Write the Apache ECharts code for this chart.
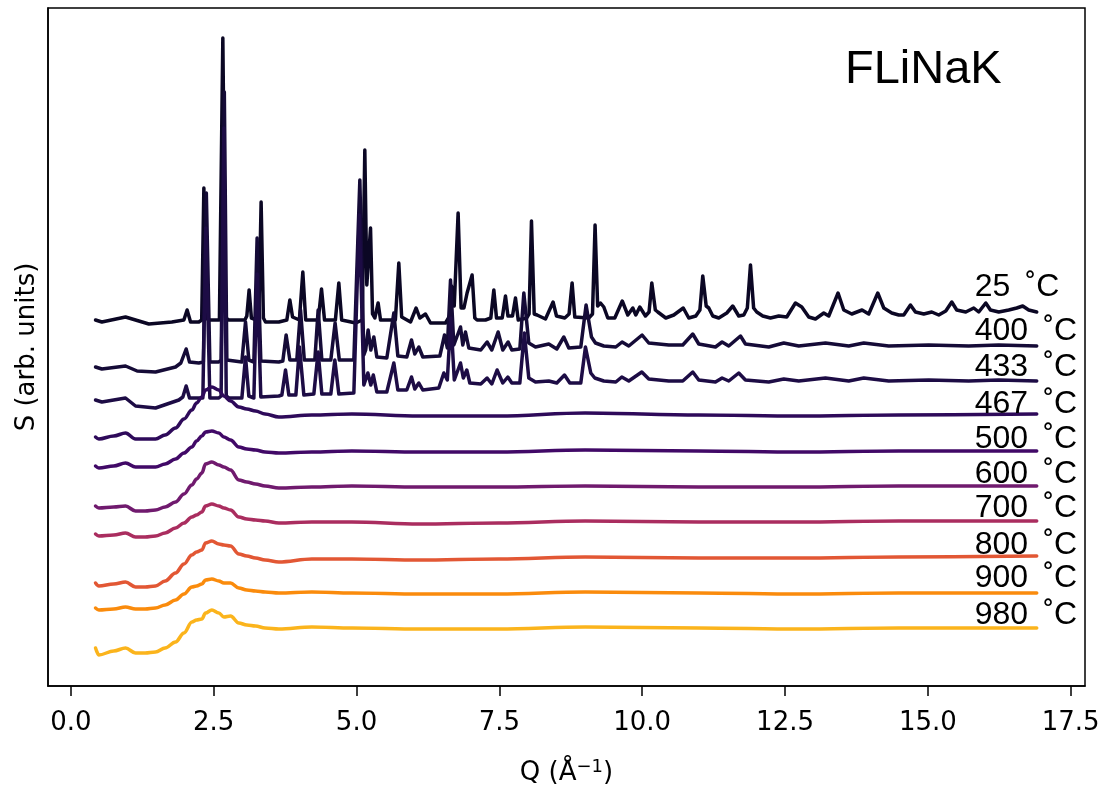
<!DOCTYPE html>
<html><head><meta charset="utf-8">
<script src="https://cdn.jsdelivr.net/npm/echarts@6/dist/echarts.min.js"></script>
<style>html,body{margin:0;padding:0;background:#fff}#c{width:1100px;height:792px}</style>
</head><body><div id="c"></div>
<script>
// ---- data (Q in 1/Å, S in arbitrary units; curves already vertically offset) ----
const temps = [25, 400, 433, 467, 500, 600, 700, 800, 900, 980];
const xTicks = [0, 2.5, 5, 7.5, 10, 12.5, 15, 17.5];

const s25 = [[0.432,366],[0.543,364],[0.957,369],[1.365,362],[1.768,364],[1.978,366],[2.035,376],[2.095,364],[2.24,364],[2.29,366],[2.328,498],[2.37,368],[2.415,366],[2.6,366],[2.66,648],[2.71,368],[2.765,366],[3.045,366],[3.08,370],[3.12,396],[3.16,368],[3.255,366],[3.29,370],[3.33,484],[3.37,368],[3.407,364],[3.64,364],[3.78,366],[3.833,386],[3.88,369],[4.0,366],[4.06,414],[4.11,366],[4.33,366],[4.387,397],[4.44,366],[4.63,366],[4.69,403],[4.74,366],[4.988,363],[5.1,366],[5.145,536],[5.18,401],[5.245,458],[5.28,372],[5.32,368],[5.378,383],[5.42,366],[5.68,366],[5.74,423],[5.79,369],[5.945,364],[6.043,378],[6.108,368],[6.207,372],[6.295,363],[6.557,363],[6.63,370],[6.662,400],[6.71,380],[6.778,473],[6.83,378],[6.88,378],[6.935,393],[7.023,411],[7.07,368],[7.11,366],[7.257,366],[7.35,368],[7.403,396],[7.45,368],[7.55,368],[7.607,390],[7.65,370],[7.73,370],[7.782,388],[7.83,366],[7.98,368],[8.02,372],[8.062,465],[8.11,372],[8.16,371],[8.307,367],[8.44,384],[8.5,370],[8.645,368],[8.72,372],[8.773,403],[8.82,369],[9.065,368],[9.13,372],[9.175,461],[9.22,380],[9.27,383],[9.328,379],[9.398,368],[9.52,368],[9.651,385],[9.748,371],[9.835,378],[9.888,371],[9.958,379],[10.057,370],[10.12,374],[10.168,403],[10.23,376],[10.273,374],[10.413,368],[10.553,371],[10.719,378],[10.815,368],[10.938,370],[11.01,376],[11.06,410],[11.12,380],[11.165,378],[11.235,370],[11.34,368],[11.48,373],[11.585,380],[11.69,370],[11.778,371],[11.84,378],[11.895,421],[11.95,378],[12.005,374],[12.11,370],[12.245,368],[12.39,370],[12.53,369],[12.682,383],[12.793,379],[12.915,369],[13.032,367],[13.178,373],[13.265,370],[13.428,393],[13.528,376],[13.668,372],[13.848,376],[13.965,372],[14.123,393],[14.228,378],[14.368,373],[14.49,371],[14.578,371],[14.695,381],[14.782,374],[14.928,372],[15.068,374],[15.19,371],[15.313,375],[15.418,384],[15.505,376],[15.663,374],[15.803,378],[15.89,374],[16.013,383],[16.095,376],[16.24,374],[16.415,376],[16.555,378],[16.66,380],[16.765,376],[16.905,374]];

const s400 = [[0.432,319],[0.543,317],[0.957,320],[1.16,315],[1.482,314],[1.832,319],[1.925,323],[2.018,337],[2.077,324],[2.24,323],[2.319,324],[2.371,493],[2.433,324],[2.59,324],[2.63,326],[2.686,594],[2.73,326],[2.765,324],[2.993,324],[3.057,364],[3.115,326],[3.203,324],[3.26,448],[3.325,325],[3.64,324],[3.71,325],[3.768,351],[3.833,326],[3.955,326],[4.02,376],[4.086,326],[4.27,326],[4.328,376],[4.393,326],[4.55,326],[4.625,363],[4.699,326],[4.953,326],[5.058,506],[5.128,331],[5.16,336],[5.203,356],[5.25,336],[5.303,349],[5.355,329],[5.53,328],[5.653,373],[5.723,330],[5.88,329],[5.962,346],[6.02,332],[6.09,339],[6.16,329],[6.458,330],[6.54,351],[6.589,338],[6.645,406],[6.703,341],[6.82,359],[6.86,341],[6.907,354],[6.965,338],[7.175,336],[7.285,344],[7.368,336],[7.478,354],[7.56,336],[7.653,344],[7.718,336],[7.858,337],[7.928,393],[8.015,343],[8.132,339],[8.365,342],[8.505,337],[8.628,349],[8.715,338],[8.925,339],[9.018,381],[9.112,349],[9.182,343],[9.328,340],[9.538,339],[9.648,344],[9.765,340],[9.998,351],[10.115,343],[10.465,341],[10.71,341],[10.885,352],[10.99,342],[11.282,339],[11.398,344],[11.515,340],[11.72,350],[11.807,342],[12.215,339],[12.478,343],[12.74,340],[13.207,343],[13.615,340],[13.878,343],[14.315,340],[15.015,341],[15.715,340],[16.24,341],[16.905,340]];

const s433 = [[0.432,286],[0.543,284],[0.957,288],[1.132,280],[1.482,278],[1.89,286],[1.96,289],[2.018,300],[2.077,288],[2.24,288],[2.31,288],[2.363,458],[2.433,288],[2.59,288],[2.63,290],[2.678,558],[2.72,290],[2.765,288],[2.993,288],[3.057,329],[3.115,290],[3.203,288],[3.26,412],[3.325,289],[3.64,290],[3.693,291],[3.757,316],[3.815,291],[3.938,291],[4.002,339],[4.078,291],[4.253,292],[4.328,334],[4.393,292],[4.55,292],[4.62,326],[4.69,292],[4.953,293],[5.049,471],[5.128,301],[5.198,313],[5.25,301],[5.294,311],[5.355,294],[5.53,294],[5.653,323],[5.723,296],[5.88,296],[5.962,309],[6.02,297],[6.09,303],[6.16,296],[6.44,298],[6.528,313],[6.589,306],[6.65,368],[6.711,306],[6.82,323],[6.869,308],[6.93,316],[6.983,303],[7.175,302],[7.285,308],[7.368,302],[7.46,316],[7.56,303],[7.648,309],[7.718,303],[7.858,303],[7.937,353],[8.015,308],[8.132,304],[8.365,305],[8.505,303],[8.64,311],[8.733,303],[8.925,303],[9.007,339],[9.1,313],[9.17,308],[9.328,305],[9.538,304],[9.643,309],[9.765,305],[9.993,314],[10.115,307],[10.465,305],[10.71,305],[10.885,314],[10.99,306],[11.282,304],[11.398,308],[11.515,305],[11.69,313],[11.807,306],[12.215,304],[12.478,307],[12.74,305],[13.207,308],[13.615,305],[13.878,308],[14.315,305],[15.015,306],[15.715,305],[16.24,306],[16.905,305]];

const qLiquid = [0.432,0.49,0.75,0.957,1.132,1.3,1.482,1.65,1.832,1.98,2.118,2.2,2.293,2.357,2.468,2.59,2.678,2.795,2.94,3.08,3.232,3.4,3.64,4.218,4.918,6.09,7.49,9.0,10.99,12.74,14.49,16.905];
const s467 = [249,247,250,253,247,247,247,251,258,267,276,283,289,296,299,296,290,285,279,277,275,272,269,271,272,270,270,273,271,270,271,272];
const s500 = [220,218,220,223,219,219,219,222,227,233,239,245,250,254,255,253,249,246,239,237,236,234,233,234,235,234,234,236,235,234,235,235];
const s600 = [180,178,179,180,175,175,176,179,184,192,201,207,213,222,224,221,219,216,206,204,202,200,198,199,200,199,199,200,199,199,200,200];
const s700 = [152,150,151,153,149,149,150,153,158,163,169,171,174,180,182,180,178,176,169,167,166,165,163,164,164,162,163,165,164,164,165,165];
const s800 = [103,100,102,104,99,99,100,105,113,122,131,134,136,143,145,142,141,140,132,130,128,126,124,127,127,126,127,129,128,128,129,130];
const s900 = [78,76,77,79,77,77,78,81,86,92,99,100,102,106,107,105,103,103,98,96,95,94,93,94,93,92,92,94,93,92,93,93];
const s980 = [38,31,35,38,33,33,34,38,44,53,64,66,67,73,76,73,69,70,63,61,60,58,57,59,58,57,57,59,58,57,58,58];

// ---- styling ----
const colors = ['#0b0724','#150b37','#1d0c45','#2e0a5a','#410967','#701a6e','#aa2d5f','#e25734','#fa8b0c','#fbb41c'];
const labelLift = [25, 15, 14, 10, 12, 12, 13, 11, 15, 13];
const labelQ = 15.82;

const liquid = [s467, s500, s600, s700, s800, s900, s980].map(a => a.map((v, i) => [qLiquid[i], v]));
const allData = [s25, s400, s433].concat(liquid);

const series = [];
allData.forEach((d, i) => {
  const isLiquid = i >= 3;
  series.push({
    type: 'line', data: d, showSymbol: false, symbol: 'none',
    smooth: isLiquid ? 0.35 : false, smoothMonotone: isLiquid ? 'x' : undefined,
    lineStyle: { color: colors[i], width: 3.5, join: 'round', cap: 'round', opacity: 1 },
    silent: true, animation: false, z: 2
  });
});
const labelData = allData.map((d, i) => ({
  value: [labelQ, d[d.length - 1][1] + labelLift[i]],
  label: { formatter: temps[i] + ' \u2009\u02DA' + 'C' }
}));
series.push({
  type: 'scatter', data: labelData, symbolSize: 0, silent: true, animation: false, z: 5,
  itemStyle: { opacity: 1 },
  label: { show: true, position: 'right', distance: 0, color: '#000', opacity: 1,
           fontFamily: 'Liberation Sans, Arial, sans-serif', fontSize: 32 }
});

const chart = echarts.init(document.getElementById('c'), null, { renderer: 'canvas' });
chart.setOption({
  backgroundColor: '#fff',
  animation: false,
  title: { text: 'FLiNaK', left: 840, top: 42,
           textStyle: { fontFamily: 'Liberation Sans, Arial, sans-serif', fontSize: 47, fontWeight: 'normal', color: '#000' } },
  grid: { left: 48, right: 15, top: 8, bottom: 106, show: true, borderColor: '#000', borderWidth: 1.5,
          backgroundColor: 'transparent', containLabel: false, outerBoundsMode: 'none' },
  xAxis: {
    type: 'value', min: -0.4, max: 17.75,
    name: 'Q (Å{sup|\u22121})', nameLocation: 'middle', nameGap: 72,
    nameTextStyle: { fontFamily: 'DejaVu Sans', fontSize: 26, color: '#000', lineHeight: 30,
                     rich: { sup: { fontFamily: 'DejaVu Sans', fontSize: 18, color: '#000', verticalAlign: 'top', lineHeight: 30 } } },
    axisLine: { show: true, onZero: false, lineStyle: { color: '#000', width: 1.5 } },
    axisTick: { show: true, inside: false, length: 10, customValues: xTicks, lineStyle: { color: '#000', width: 1.5 } },
    axisLabel: { show: true, customValues: xTicks, margin: 24, formatter: v => v.toFixed(1),
                 fontFamily: 'DejaVu Sans', fontSize: 26, color: '#000' },
    splitLine: { show: false }
  },
  yAxis: {
    type: 'value', min: 0, max: 678,
    name: 'S (arb. units)', nameLocation: 'middle', nameGap: 8, nameRotate: 90,
    nameTextStyle: { fontFamily: 'DejaVu Sans', fontSize: 26, color: '#000' },
    axisLine: { show: true, onZero: false, lineStyle: { color: '#000', width: 1.5 } },
    axisTick: { show: false }, axisLabel: { show: false }, splitLine: { show: false }
  },
  series: series
});
</script></body></html>
